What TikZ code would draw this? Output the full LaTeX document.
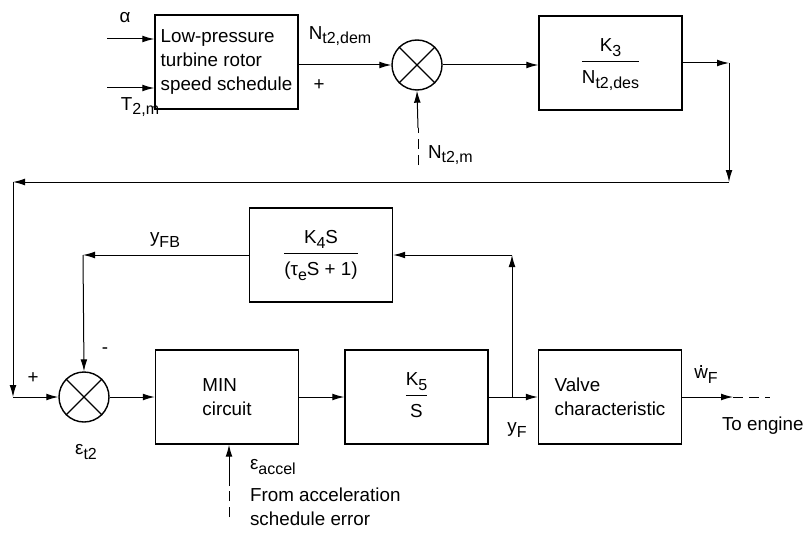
\documentclass[tikz,border=0pt]{standalone}
\usepackage{fontspec}
\setmainfont{Liberation Sans}
\usetikzlibrary{arrows.meta}

\newcommand{\sub}[1]{\raisebox{-0.45ex}{\footnotesize #1}}
\newcommand{\frc}[2]{\begin{tabular}{@{}c@{}}#1\\[1pt]\hline\rule{0pt}{1.15em}#2\end{tabular}}
\newcommand{\wdot}{\ooalign{w\cr\hfil\raisebox{0.62em}{.}\hfil}}

\begin{document}
\begin{tikzpicture}[x=0.5pt,y=-0.5pt,
    font=\fontsize{9.4}{12}\selectfont,
    blk/.style={draw,line width=0.7pt,minimum width=71.5pt,minimum height=47pt,inner sep=2pt},
    sumj/.style={draw,circle,line width=0.7pt,minimum size=25pt,inner sep=0pt},
    arr/.style={-{Latex[length=6pt,width=3.4pt]},line width=0.5pt},
    dsh/.style={dash pattern=on 5pt off 3pt,line width=0.5pt}]

\useasboundingbox (0,0) rectangle (807,535);

% Blocks
\node[blk,align=left] (sched) at (226.5,62) {Low-pressure\\turbine rotor\\speed schedule};
\node[sumj] (sum1) at (417,65) {};
\node[blk] (k3) at (610.5,63) {\frc{K\sub{3}}{N\sub{t2,des}}};
\node[blk] (k4) at (321,255) {\frc{K\sub{4}S}{(τ\sub{e}S + 1)}};
\node[sumj] (sum2) at (84,397) {};
\node[blk,align=left] (minc) at (227,397) {MIN\\circuit};
\node[blk] (k5) at (416.5,397) {\frc{K\sub{5}}{S}};
\node[blk,align=left] (valve) at (610,397) {Valve\\characteristic};

% Crosses in the summing points
\draw[line width=0.7pt] (sum1.45) -- (sum1.225) (sum1.135) -- (sum1.-45);
\draw[line width=0.7pt] (sum2.45) -- (sum2.225) (sum2.135) -- (sum2.-45);

% Schedule inputs
\coordinate (ina) at (107,39);
\coordinate (inT) at (107,88);
\draw[arr] (ina) -- (ina -| sched.west);
\draw[arr] (inT) -- (inT -| sched.west);
\node (lalpha) at (125,18) {α};
\node (lT) at (140,107) {T\sub{2,m}};

% Top row
\draw[arr] (sched.east |- sum1.west) -- (sum1.west);
\draw[arr] (sum1.east) -- (sum1.east -| k3.west);
\node (ldem) at (340,36) {N\sub{t2,dem}};
\node (lplus1) at (319,85) {+};

% Measured speed
\coordinate (nm) at (418,165);
\coordinate (nmb) at (418,128);
\draw[dsh] (nm) -- (nmb);
\draw[arr] (nmb) -- (sum1.south);
\node[anchor=west] (lnm) at (421,155) {N\sub{t2,m}};

% Loop back to the left
\coordinate (cr) at (729,63);
\coordinate (cr2) at (729,182);
\coordinate (cl) at (13,182);
\coordinate (cl2) at (13,397);
\draw[arr] (k3.east) -- (cr);
\draw[arr] (cr) -- (cr2);
\draw[arr] (cr2) -- (cl);
\draw[arr] (cl) -- (cl2);
\draw[arr] (cl2) -- (sum2.west);
\node (lplus2) at (33,378) {+};
\node (lminus) at (105,351) {-};
\node (let2) at (86,452) {ε\sub{t2}};

% Bottom row
\draw[arr] (sum2.east) -- (minc.west);
\draw[arr] (minc.east) -- (k5.west);
\draw[arr] (k5.east) -- (valve.west);
\node (lyF) at (517,430) {y\sub{F}};

% Feedback
\coordinate (jf) at (512,397);
\coordinate (jfu) at (512,255);
\coordinate (fbl) at (83,255);
\draw[arr] (jf) -- (jfu);
\draw[arr] (jfu) -- (k4.east);
\draw[arr] (k4.west) -- (fbl);
\draw[arr] (fbl) -- (sum2.north);
\node (lyFB) at (165,240) {y\sub{FB}};

% Acceleration limit
\coordinate (ea) at (229,517);
\coordinate (eab) at (229,486);
\draw[dsh] (ea) -- (eab);
\draw[arr] (eab) -- (eab |- minc.south);
\node[anchor=west] (lea) at (243,467) {ε\sub{accel}};
\node[anchor=west,align=left] (lfrom) at (243,507) {From acceleration\\schedule error};

% Output
\coordinate (wo) at (733,397);
\coordinate (eng) at (770,397);
\draw[arr] (valve.east) -- (wo);
\draw[dsh] (wo) -- (eng);
\node (lwf) at (706,376) {\wdot\sub{F}};
\node[anchor=east,inner sep=1pt] (leng) at (806,426) {To engine};

\end{tikzpicture}
\end{document}
